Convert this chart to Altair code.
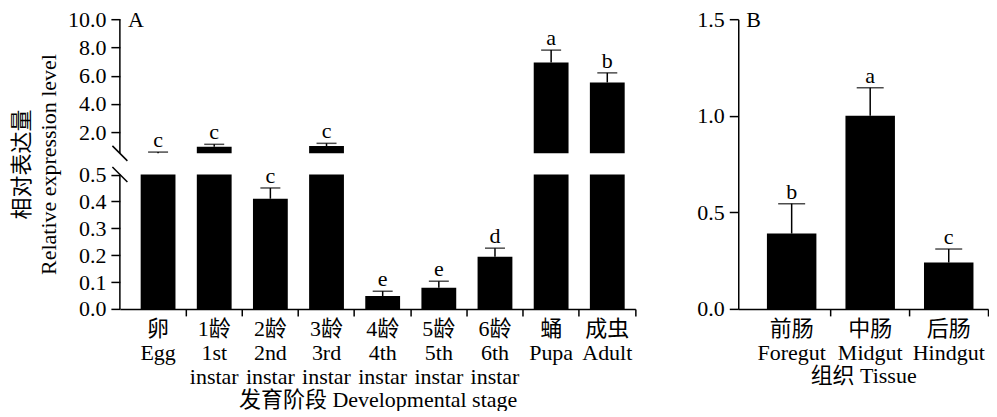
import altair as alt
import pandas as pd

# ---------------- data ----------------
stages = ["卵|Egg", "1龄|1st|instar", "2龄|2nd|instar", "3龄|3rd|instar", "4龄|4th|instar",
          "5龄|5th|instar", "6龄|6th|instar", "蛹|Pupa", "成虫|Adult"]
stage_values = [0.51, 0.97, 0.41, 1.02, 0.048, 0.079, 0.194, 6.94, 5.52]
stage_errors = [0.08, 0.17, 0.04, 0.19, 0.018, 0.024, 0.032, 0.87, 0.68]
stage_letters = ["c", "c", "c", "c", "e", "e", "d", "a", "b"]

tissues = ["前肠|Foregut", "中肠|Midgut", "后肠|Hindgut"]
tissue_values = [0.39, 1.00, 0.24]
tissue_errors = [0.155, 0.145, 0.07]
tissue_letters = ["b", "a", "c"]

y_ticks_a = [0, 0.1, 0.2, 0.3, 0.4, 0.5, 2, 4, 6, 8, 10]
y_ticks_b = [0, 0.5, 1.0, 1.5]
BREAK_LOW = 0.5
BREAK_HIGH = 0.5001
Y_MAX_A = 10
Y_MAX_B = 1.5

FONT = "'Liberation Serif', 'Noto Sans CJK SC', serif"
FS = 22

df_a = pd.DataFrame({"cat": stages, "value": stage_values, "err": stage_errors, "letter": stage_letters})
df_b = pd.DataFrame({"cat": tissues, "value": tissue_values, "err": tissue_errors, "letter": tissue_letters})
axis_segments = pd.DataFrame({"start": [0, BREAK_HIGH], "end": [BREAK_LOW, Y_MAX_A]})
break_marks = pd.DataFrame({"b": [BREAK_LOW, BREAK_HIGH]})

H = 290
WA = 516
WB = 250

# ---------------- panel A ----------------
ya_scale = alt.Scale(domain=[0, BREAK_LOW, BREAK_HIGH, Y_MAX_A],
                     range=[H, 155.5, 134.3, 0], nice=False, zero=False)
ya_axis = alt.Axis(values=y_ticks_a, format=".1f", domain=False, tickSize=9, labelPadding=5,
                   titlePadding=7, titleLineHeight=27, labelOverlap=False,
                   title=["相对表达量", "Relative expression level"])


def ya(field):
    return alt.Y(field, type="quantitative", scale=ya_scale, axis=ya_axis)


xa_scale = alt.Scale(paddingInner=0, paddingOuter=0.09, align=1)
xa_axis = alt.Axis(labelExpr="split(datum.label, '|')", labelAngle=0, tickSize=7, bandPosition=1,
                   labelPadding=3, labelLineHeight=24, titlePadding=2,
                   title="发育阶段 Developmental stage")


def xa():
    return alt.X("cat:N", sort=stages, scale=xa_scale, axis=xa_axis)


base_a = alt.Chart(df_a).transform_calculate(
    lo_base="0",
    lo_top=f"min(datum.value, {BREAK_LOW})",
    hi_base=f"{BREAK_HIGH}",
    upper="datum.value + datum.err",
)

bars_lo = base_a.mark_bar(color="black", width=alt.RelativeBandSize(0.62)).encode(
    x=xa(), y=ya("lo_base"), y2="lo_top:Q")
bars_hi = base_a.transform_filter(f"datum.value > {BREAK_HIGH}").mark_bar(
    color="black", width=alt.RelativeBandSize(0.62)).encode(
    x=xa(), y=ya("hi_base"), y2="value:Q")
err_a = base_a.mark_rule(color="black", strokeWidth=1.5).encode(
    x=xa(), y=ya("value"), y2="upper:Q")
cap_a = base_a.mark_tick(color="black", size=20, thickness=1.5).encode(
    x=xa(), y=ya("upper"))
let_a = base_a.mark_text(font=FONT, fontSize=FS, baseline="alphabetic", dy=-5, color="black").encode(
    x=xa(), y=ya("upper"), text="letter:N")
axis_a = alt.Chart(axis_segments).mark_rule(color="black", strokeWidth=1.5).encode(
    x=alt.value(0), y=ya("start"), y2="end:Q")
breaks_a = alt.Chart(break_marks).mark_rule(color="black", strokeWidth=1.5, yOffset=-7.5, y2Offset=7.5).encode(
    x=alt.value(-7.5), x2=alt.value(7.5), y=ya("b"), y2="b:Q")
label_a = alt.Chart(pd.DataFrame({"t": ["A"]})).mark_text(
    font=FONT, fontSize=FS, align="left", baseline="middle", color="black").encode(
    x=alt.value(8), y=alt.value(1), text="t:N")

panel_a = alt.layer(bars_lo, bars_hi, err_a, cap_a, let_a, axis_a, breaks_a, label_a).properties(
    width=WA, height=H)

# ---------------- panel B ----------------
yb_scale = alt.Scale(domain=[0, Y_MAX_B], nice=False, zero=False)
yb_axis = alt.Axis(values=y_ticks_b, format=".1f", tickSize=9, labelPadding=5, title=None)


def yb(field):
    return alt.Y(field, type="quantitative", scale=yb_scale, axis=yb_axis)


xb_scale = alt.Scale(paddingInner=0, paddingOuter=0.09, align=1)
xb_axis = alt.Axis(labelExpr="split(datum.label, '|')", labelAngle=0, tickSize=7, bandPosition=1,
                   labelPadding=3, labelLineHeight=24, titlePadding=2, title="组织 Tissue")


def xb():
    return alt.X("cat:N", sort=tissues, scale=xb_scale, axis=xb_axis)


base_b = alt.Chart(df_b).transform_calculate(upper="datum.value + datum.err")
bars_b = base_b.mark_bar(color="black", width=alt.RelativeBandSize(0.63)).encode(
    x=xb(), y=yb("value"))
err_b = base_b.mark_rule(color="black", strokeWidth=1.5).encode(
    x=xb(), y=yb("value"), y2="upper:Q")
cap_b = base_b.mark_tick(color="black", size=27, thickness=1.5).encode(
    x=xb(), y=yb("upper"))
let_b = base_b.mark_text(font=FONT, fontSize=FS, baseline="alphabetic", dy=-5, color="black").encode(
    x=xb(), y=yb("upper"), text="letter:N")
label_b = alt.Chart(pd.DataFrame({"t": ["B"]})).mark_text(
    font=FONT, fontSize=FS, align="left", baseline="middle", color="black").encode(
    x=alt.value(8), y=alt.value(1), text="t:N")

panel_b = alt.layer(bars_b, err_b, cap_b, let_b, label_b).properties(width=WB, height=H)

chart = alt.hconcat(panel_a, panel_b, spacing=60).properties(
    padding={"left": 2, "top": 0, "right": 0, "bottom": 0}
).configure_axis(
    labelFont=FONT, titleFont=FONT, labelFontSize=FS, titleFontSize=FS,
    titleFontWeight="normal", labelColor="black", titleColor="black",
    domainColor="black", tickColor="black", grid=False, domainWidth=1.5, tickWidth=1.5,
).configure_view(stroke=None)

chart.save("out.html", embed_options={"renderer": "svg", "actions": False})
